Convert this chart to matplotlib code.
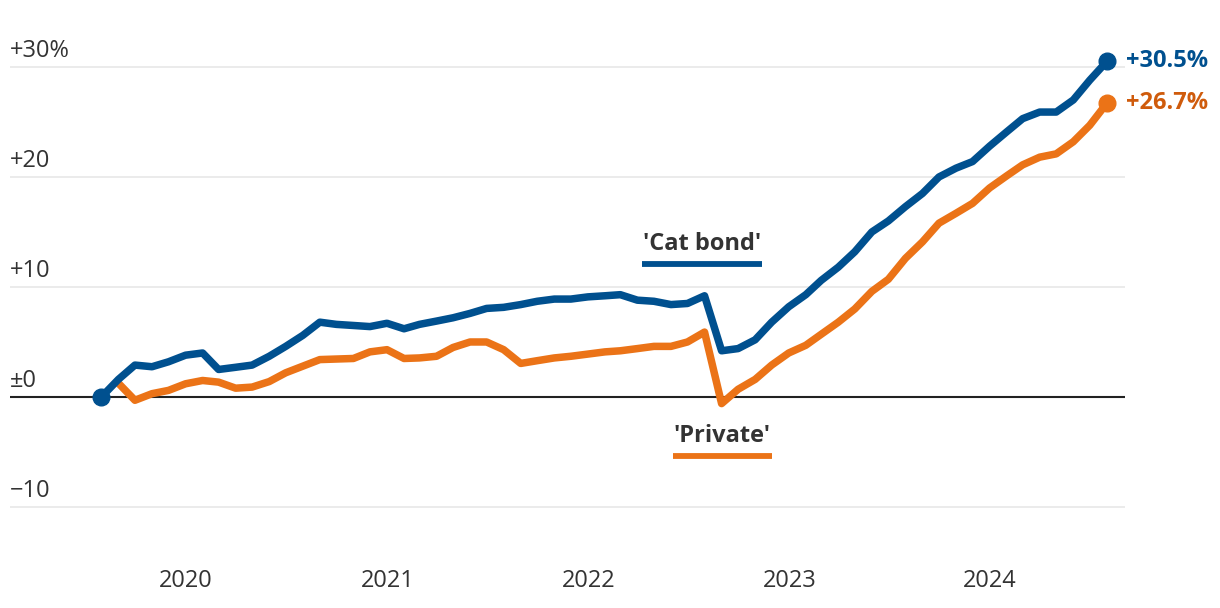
import matplotlib
matplotlib.use('Agg')
import matplotlib.pyplot as plt
import pandas as pd
import numpy as np

plt.rcParams['font.family'] = ['Open Sans', 'DejaVu Sans']

# ---- data ----
dates = pd.date_range('2019-07-31', periods=61, freq=pd.offsets.MonthEnd())
cat_bond = [0.0, 1.6, 2.9, 2.75, 3.2, 3.8, 4.0, 2.5, 2.7, 2.9, 3.7, 4.6,
            5.6, 6.8, 6.6, 6.5, 6.4, 6.7, 6.2, 6.6, 6.9, 7.2, 7.6, 8.05,
            8.15, 8.4, 8.7, 8.9, 8.9, 9.1, 9.2, 9.3, 8.8, 8.7, 8.4, 8.5,
            9.2, 4.2, 4.4, 5.2, 6.8, 8.2, 9.3, 10.6, 11.8, 13.2, 15.0, 16.0,
            17.3, 18.5, 20.0, 20.8, 21.4, 22.8, 24.1, 25.3, 25.9, 25.9, 27.0, 28.8,
            30.5]
private = [np.nan, 1.25, -0.3, 0.3, 0.6, 1.2, 1.5, 1.35, 0.8, 0.9, 1.4, 2.2,
           2.8, 3.4, 3.45, 3.5, 4.1, 4.3, 3.5, 3.55, 3.7, 4.5, 5.0, 5.0,
           4.3, 3.05, 3.3, 3.55, 3.7, 3.9, 4.1, 4.2, 4.4, 4.6, 4.6, 5.0,
           5.9, -0.6, 0.7, 1.6, 2.9, 4.0, 4.7, 5.7, 6.8, 8.0, 9.6, 10.7,
           12.6, 14.1, 15.8, 16.7, 17.6, 19.0, 20.1, 21.1, 21.8, 22.1, 23.2, 24.7,
           26.7]
y_ticks = [-10, 0, 10, 20, 30]
y_labels = ['\u221210', '\u00b10', '+10', '+20', '+30%']
x_years = [2020, 2021, 2022, 2023, 2024]
end_labels = ['+30.5%', '+26.7%']
series_names = ["'Cat bond'", "'Private'"]

BLUE = '#00508f'
ORANGE = '#eb7317'
ORANGE_TXT = '#cf5b0c'
TXT = '#333333'

fig = plt.figure(figsize=(12.2, 6.08), dpi=100)
W, H = 1220, 608
ax = fig.add_axes([10 / W, 1 - 540 / H, 1115 / W, 500 / H])
ax.set_xlim(pd.Timestamp('2019-02-15'), pd.Timestamp('2024-09-02'))
ax.set_ylim(-13.0, 32.45)
for s in ax.spines.values():
    s.set_visible(False)

# grid + y labels
trans = ax.get_yaxis_transform()
for v, lab in zip(y_ticks, y_labels):
    if v == 0:
        ax.axhline(v, color='#222222', lw=1.5, zorder=1)
    else:
        ax.axhline(v, color='#e8e8e8', lw=1.2, zorder=0)
    ax.annotate(lab, xy=(0, v), xycoords=trans, xytext=(0, 3), textcoords='offset points',
                ha='left', va='bottom', fontsize=17, color=TXT)
ax.set_yticks([])

# x ticks
ax.set_xticks([pd.Timestamp(f'{y}-01-01') for y in x_years])
ax.set_xticklabels([str(y) for y in x_years], fontsize=17, color=TXT)
ax.tick_params(axis='x', length=0, pad=21)

# lines
ax.plot(dates, cat_bond, color=BLUE, lw=5.4, solid_joinstyle='round', solid_capstyle='round', zorder=3)
ax.plot(dates, private, color=ORANGE, lw=5.4, solid_joinstyle='round', solid_capstyle='butt', zorder=2)
ax.plot(dates[0], cat_bond[0], 'o', color=BLUE, ms=12, zorder=4)
ax.plot(dates[-1], cat_bond[-1], 'o', color=BLUE, ms=12, zorder=4)
ax.plot(dates[-1], private[-1], 'o', color=ORANGE, ms=12, zorder=4)

ax.annotate(end_labels[0], xy=(dates[-1], cat_bond[-1]), xytext=(14, 0), textcoords='offset points',
            ha='left', va='center', fontsize=17, fontweight='bold', color=BLUE, annotation_clip=False)
ax.annotate(end_labels[1], xy=(dates[-1], private[-1]), xytext=(14, 0), textcoords='offset points',
            ha='left', va='center', fontsize=17, fontweight='bold', color=ORANGE_TXT, annotation_clip=False)

# series labels with underline
def label_with_underline(text, x, y, color, yline):
    t = ax.text(x, y, text, ha='center', va='center', fontsize=17, fontweight='bold', color=TXT)
    fig.canvas.draw()
    bb = t.get_window_extent()
    inv = ax.transData.inverted()
    x0 = inv.transform((bb.x0 - 1, 0))[0]
    x1 = inv.transform((bb.x1 + 1, 0))[0]
    ax.plot([x0, x1], [yline, yline], color=color, lw=4.2, solid_capstyle='butt', zorder=2)

label_with_underline(series_names[0], pd.Timestamp('2022-07-26'), 13.9, BLUE, 12.1)
label_with_underline(series_names[1], pd.Timestamp('2022-09-01'), -3.55, ORANGE, -5.36)

fig.savefig('out.png', dpi=100)
